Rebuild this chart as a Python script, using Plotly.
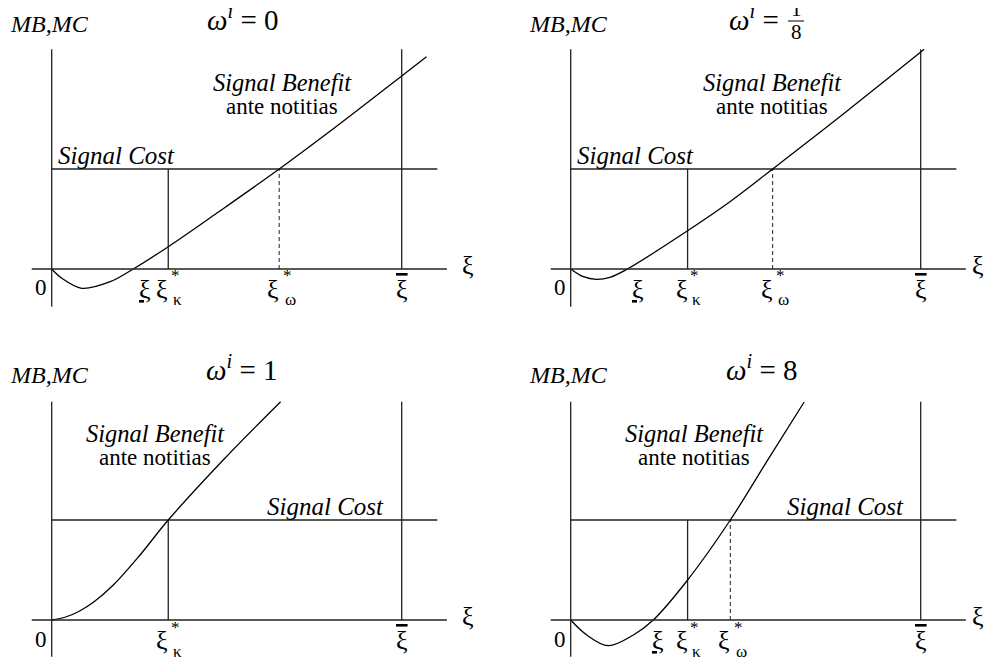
import plotly.graph_objects as go

# page body has an 8px margin; the figure is sized so nothing runs past the
# visible window. All pixel positions below are page pixels.
OFF = 8
W, H = 993 - 2 * OFF, 664 - OFF

# panel order: omega = 0, 1/8, 1, 8
omega_titles = ["0", "1/8", "1", "8"]
xi_bar = 10.0
signal_cost = 1.0
xi_kappa = [3.33, 3.34, 3.33, 3.34]
xi_omega = [6.50, 5.77, None, 4.56]
xi_low = [2.33, 1.62, None, 2.36]

# signal benefit ante notitias
benefit_x = [
    [0, 0.29, 0.86, 1.67, 2.33, 3.33, 4.71, 6.50, 8.30, 10.0, 10.71],
    [0, 0.36, 0.74, 1.12, 1.62, 3.34, 4.55, 5.77, 7.87, 10.1],
    [0, 0.4, 0.8, 1.2, 1.76, 2.5, 3.33, 4.9, 6.54],
    [0, 0.46, 1.07, 1.79, 2.36, 3.34, 4.56, 5.60, 6.67],
]
benefit_y = [
    [0, -0.093, -0.193, -0.127, 0, 0.223, 0.557, 1.0, 1.47, 1.93, 2.123],
    [0, -0.077, -0.103, -0.083, 0, 0.383, 0.673, 1.0, 1.573, 2.197],
    [0, 0.03, 0.09, 0.18, 0.35, 0.64, 1.0, 1.6, 2.183],
    [0, -0.15, -0.257, -0.15, 0, 0.40, 1.0, 1.583, 2.18],
]

# page-pixel origin of each panel and pixels per unit
origins = [(51.7, 269), (570.7, 269), (51.7, 620), (570.7, 620)]
sx, sy = 35.0, 100.0
SERIF = "Liberation Serif"
INK = "#000"
AX = "#222"

fig = go.Figure()


def P(px, py):
    return (px - OFF) / W, 1 - (py - OFF) / H


def ann(text, px, py, size=22, xa="center", ya="middle"):
    x, y = P(px, py)
    fig.add_annotation(x=x, y=y, xref="paper", yref="paper", text=text, showarrow=False,
                       xanchor=xa, yanchor=ya, font=dict(family=SERIF, size=size, color="#000"))


page_r, page_b = OFF + W, OFF + H
layout_axes = {}
for i in range(4):
    ox, oy = origins[i]
    left = i % 2 == 0
    top = i < 2
    dx = (OFF, 496.5) if left else (496.5, page_r)
    dy = (OFF, 332) if top else (332, page_b)
    n = "" if i == 0 else str(i + 1)
    layout_axes["xaxis" + n] = dict(domain=[(dx[0] - OFF) / W, (dx[1] - OFF) / W],
                                    range=[(dx[0] - ox) / sx, (dx[1] - ox) / sx], visible=False)
    layout_axes["yaxis" + n] = dict(domain=[1 - (dy[1] - OFF) / H, 1 - (dy[0] - OFF) / H],
                                    range=[(oy - dy[1]) / sy, (oy - dy[0]) / sy], visible=False)
    xr, yr = "x" + n, "y" + n

    ytop = 2.197 if top else 2.183
    ybot = -0.377 if top else -0.367
    # axes
    fig.add_shape(type="line", xref=xr, yref=yr, x0=-0.57, x1=11.29, y0=0, y1=0,
                  line=dict(color=AX, width=1.3))
    fig.add_shape(type="line", xref=xr, yref=yr, x0=0, x1=0, y0=ybot, y1=ytop,
                  line=dict(color=AX, width=1.3))

    # xi bar
    fig.add_trace(go.Scatter(x=[xi_bar, xi_bar], y=[0, ytop], mode="lines",
                             line=dict(color=AX, width=1.3), xaxis=xr, yaxis=yr, showlegend=False))
    # signal cost
    fig.add_trace(go.Scatter(x=[0, 11.02], y=[signal_cost, signal_cost], mode="lines",
                             line=dict(color=AX, width=1.3), xaxis=xr, yaxis=yr, showlegend=False))
    # xi kappa
    fig.add_trace(go.Scatter(x=[xi_kappa[i], xi_kappa[i]], y=[0, signal_cost], mode="lines",
                             line=dict(color=AX, width=1.3), xaxis=xr, yaxis=yr, showlegend=False))
    if xi_omega[i] is not None:
        fig.add_trace(go.Scatter(x=[xi_omega[i], xi_omega[i]], y=[0, signal_cost], mode="lines",
                                 line=dict(color=AX, width=1, dash="4px,3px"),
                                 xaxis=xr, yaxis=yr, showlegend=False))
    # benefit curve
    fig.add_trace(go.Scatter(x=benefit_x[i], y=benefit_y[i], mode="lines",
                             line=dict(color=INK, width=1.3, shape="spline", smoothing=1.0),
                             xaxis=xr, yaxis=yr, showlegend=False))

    # labels
    dxp = 0 if left else 519
    dyp = 0 if top else 351
    ann("<i>MB,MC</i>", 49 + dxp, 24 + dyp, 24)
    ann("0", 41 + dxp, 288 + dyp, 23)
    ann("ξ", (468 if left else 978), 265 + dyp, 26)
    bx = ox + xi_bar * sx
    ann("<span style='text-decoration:overline'>ξ</span>", bx, 289 + dyp, 26)
    kx = ox + xi_kappa[i] * sx
    ann("ξ", kx - 6, 289 + dyp, 26)
    ann("*", kx + 7, 276 + dyp, 17)
    ann("κ", kx + 9, 300 + dyp, 17)
    if xi_omega[i] is not None:
        wx = ox + xi_omega[i] * sx
        ann("ξ", wx - 6, 289 + dyp, 26)
        ann("*", wx + 8, 276 + dyp, 17)
        ann("ω", wx + 11, 300 + dyp, 17)
    if xi_low[i] is not None:
        lx = ox + xi_low[i] * sx
        shift = {0: 12, 1: 11, 3: 5}[i]
        ann("<u>ξ</u>", lx + shift, 289 + dyp, 26)

# titles
ann("<i>ω</i><sup><i>i</i></sup> = 0", 242, 18, 29)
ann("<i>ω</i><sup><i>i</i></sup> =", 781, 18, 29, xa="right")
ann("1", 796, 9, 21)
ann("8", 796, 32, 21)
x0, y0 = P(788, 21)
x1, _ = P(804, 21)
fig.add_shape(type="line", xref="paper", yref="paper", x0=x0, x1=x1, y0=y0, y1=y0,
              line=dict(color="#000", width=1))
ann("<i>ω</i><sup><i>i</i></sup> = 1", 241, 368, 29)
ann("<i>ω</i><sup><i>i</i></sup> = 8", 761, 368, 29)

# curve / cost texts
for (bx, by), (cx, cy) in zip([(282, 82), (772, 82), (155, 433), (694, 433)],
                              [(116, 155), (635, 155), (325, 506), (845, 506)]):
    ann("<i>Signal Benefit</i>", bx, by, 24.5)
    ann("ante notitias", bx, by + 24, 23)
    ann("<i>Signal Cost</i>", cx, cy, 25)

fig.update_layout(width=W, height=H, margin=dict(l=0, r=0, t=0, b=0), autosize=False,
                  font=dict(family=SERIF),
                  paper_bgcolor="white", plot_bgcolor="white", **layout_axes)

fig.write_html("out.html")
